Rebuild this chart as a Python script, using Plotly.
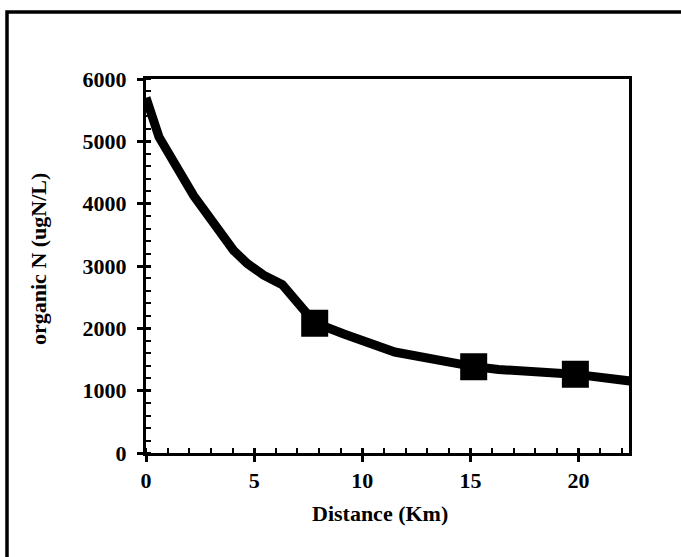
import plotly.graph_objects as go

distance_km = [0, 0.6, 2.2, 4.05, 4.68, 5.44, 6.3, 7.8, 9.15, 9.9, 11.5, 15.1, 16.3, 19.8, 22.5]
organic_n = [5700, 5070, 4130, 3250, 3040, 2853, 2700, 2090, 1910, 1815, 1620, 1390, 1340, 1265, 1150]

marker_km = [7.8, 15.15, 19.85]
marker_n = [2080, 1385, 1265]

x_ticks = [0, 5, 10, 15, 20]
y_ticks = [0, 1000, 2000, 3000, 4000, 5000, 6000]

FONT = "Liberation Serif"
W, H = 681, 557
ML, MR, MT, MB = 146, 52, 79, 104
PW, PH = W - ML - MR, H - MT - MB

def px_x(p):
    return (p - ML) / PW

def px_y(p):
    return (H - MB - p) / PH

fig = go.Figure()
fig.add_trace(go.Scatter(x=distance_km, y=organic_n, mode="lines",
                         line=dict(color="black", width=9), hoverinfo="skip",
                         showlegend=False, cliponaxis=True))
fig.add_trace(go.Scatter(x=marker_km, y=marker_n, mode="markers",
                         marker=dict(symbol="square", size=22, color="black",
                                     line=dict(color="black", width=5)),
                         showlegend=False))
# overlay trace for inside halves of major ticks
fig.add_trace(go.Scatter(x=[None], y=[None], xaxis="x2", yaxis="y2",
                         showlegend=False, hoverinfo="skip"))

xr = [0, 22.33]
yr = [0, 6000]
tickfont = dict(family=FONT, size=22, color="black", weight="bold")

fig.update_layout(
    width=W, height=H,
    margin=dict(l=ML, r=MR, t=MT, b=MB),
    paper_bgcolor="white", plot_bgcolor="white",
    xaxis=dict(range=xr, tickvals=x_ticks, ticktext=[str(v) for v in x_ticks],
               ticks="outside", ticklen=6, tickwidth=2.5, tickcolor="black",
               minor=dict(dtick=1, ticks="inside", ticklen=5, tickwidth=2, tickcolor="black"),
               showline=True, linecolor="black", linewidth=3, mirror=True,
               showgrid=False, zeroline=False, tickfont=tickfont),
    yaxis=dict(range=yr, tickvals=y_ticks, ticktext=[str(v) for v in y_ticks],
               ticks="outside", ticklen=6, tickwidth=2.5, tickcolor="black",
               ticklabelstandoff=6,
               minor=dict(dtick=200, ticks="inside", ticklen=5, tickwidth=2, tickcolor="black"),
               showline=True, linecolor="black", linewidth=3, mirror=True,
               showgrid=False, zeroline=False, tickfont=tickfont),
    xaxis2=dict(range=xr, overlaying="x", tickvals=x_ticks, showticklabels=False,
                ticks="inside", ticklen=5, tickwidth=2.5, tickcolor="black",
                showgrid=False, zeroline=False, showline=False),
    yaxis2=dict(range=yr, overlaying="y", tickvals=y_ticks, showticklabels=False,
                ticks="inside", ticklen=5, tickwidth=2.5, tickcolor="black",
                showgrid=False, zeroline=False, showline=False),
    shapes=[dict(type="rect", xref="paper", yref="paper",
                 x0=px_x(7), x1=px_x(760), y0=px_y(640), y1=px_y(12),
                 line=dict(color="black", width=3.5), fillcolor="rgba(0,0,0,0)")],
    annotations=[
        dict(text="Distance (Km)", xref="paper", yref="paper",
             x=px_x(380), y=px_y(513), xanchor="center", yanchor="middle",
             showarrow=False, font=dict(family=FONT, size=22, color="black", weight="bold")),
        dict(text="organic N (ugN/L)", xref="paper", yref="paper", textangle=-90,
             x=px_x(38), y=px_y(259), xanchor="center", yanchor="middle",
             showarrow=False, font=dict(family=FONT, size=22, color="black", weight="bold")),
    ],
)

fig.write_html("out.html")
